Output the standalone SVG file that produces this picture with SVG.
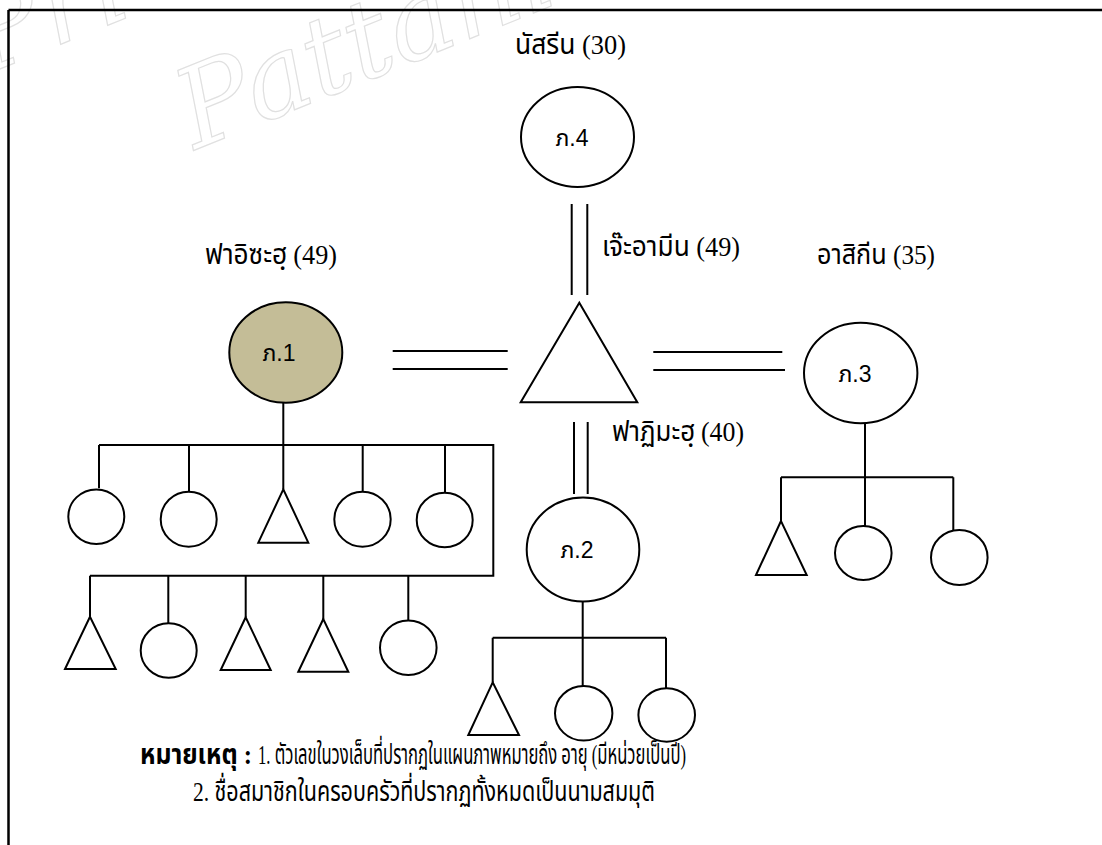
<svg xmlns="http://www.w3.org/2000/svg" width="1102" height="845" viewBox="0 0 1102 845">
<style>
.ln{stroke:#000;stroke-width:2;fill:none}
.sh{stroke:#000;stroke-width:2;fill:#fff}
.nm{font-family:"Liberation Serif","Noto Sans Thai","Noto Serif Thai",serif;font-size:28px;fill:#000}
.lb{font-family:"Liberation Sans","Noto Sans Thai",sans-serif;font-size:23px;fill:#000;text-anchor:middle}
.wm{font-family:"DejaVu Serif",serif;font-style:italic;font-size:110px;fill:none;stroke:#e0e0e0;stroke-width:1.2}
</style>
<rect width="1102" height="845" fill="#fff"/>
<g id="watermark">
<text class="wm" transform="translate(-15 75) rotate(-22)">Pri</text>
<text class="wm" transform="translate(195 150) rotate(-22)">Pattani C</text>
</g>
<g id="frame">
<path d="M8.5 10 H1102 M8.5 10 V845" stroke="#000" stroke-width="2.5" fill="none"/>
</g>
<g id="connectors">
<path class="ln" d="M571.7 204 V295 M587.3 204 V295"/>
<path class="ln" d="M392.7 351 H507.7 M392.7 369 H507.7"/>
<path class="ln" d="M653.3 352 H782.3 M653.3 370 H785"/>
<path class="ln" d="M574 422 V494 M587.7 422 V494"/>
<path class="ln" d="M283.3 403 V489.3"/>
<path class="ln" d="M99 445 H493.3 V575.7 H90"/>
<path class="ln" d="M99 445 V488.3 M189 445 V491.7 M362.7 445 V491.7 M445 445 V492.7"/>
<path class="ln" d="M90 575.7 V616.7 M168.3 575.7 V623.3 M245.7 575.7 V617.3 M323.3 575.7 V619 M408.3 575.7 V620.7"/>
<path class="ln" d="M582.7 598 V637.7 M492.7 637.7 H666 M492.7 637.7 V682.3 M582.7 637.7 V686 M666 637.7 V688.3"/>
<path class="ln" d="M865 405 V477.3 M781 477.3 H953.3 M781 477.3 V521 M865 477.3 V526 M953.3 477.3 V530"/>
</g>
<g id="p4">
<ellipse class="sh" cx="577.5" cy="137" rx="56.5" ry="50"/>
<text class="lb" x="572" y="146">ภ.4</text>
</g>
<g id="p1">
<ellipse cx="285.8" cy="352.5" rx="56.5" ry="50.2" fill="#C4BD97" stroke="#000" stroke-width="2"/>
<text class="lb" x="279" y="361">ภ.1</text>
</g>
<g id="husband">
<polygon class="sh" points="579.3,302.7 520.7,402.3 637.3,402.3"/>
</g>
<g id="p3">
<ellipse class="sh" cx="860.7" cy="373" rx="56.7" ry="50.3"/>
<text class="lb" x="855" y="382">ภ.3</text>
</g>
<g id="p2">
<ellipse class="sh" cx="583" cy="549.5" rx="56.3" ry="52"/>
<text class="lb" x="577" y="558">ภ.2</text>
</g>
<g id="children1">
<ellipse class="sh" cx="96.3" cy="516.7" rx="28" ry="27.3"/>
<ellipse class="sh" cx="188.7" cy="519.2" rx="28" ry="27.5"/>
<polygon class="sh" points="283.3,489.3 258.3,542.7 308.3,542.7"/>
<ellipse class="sh" cx="362.5" cy="519.2" rx="28.2" ry="27.5"/>
<ellipse class="sh" cx="444.7" cy="520" rx="28" ry="27.3"/>
<polygon class="sh" points="90,616.7 65,669 115.7,669"/>
<ellipse class="sh" cx="168.7" cy="650.5" rx="28" ry="27.2"/>
<polygon class="sh" points="245.7,617.3 220.7,670 270.7,670"/>
<polygon class="sh" points="323.3,619 298.3,671.7 348.3,671.7"/>
<ellipse class="sh" cx="408.3" cy="647.8" rx="28.3" ry="27.2"/>
</g>
<g id="children2">
<polygon class="sh" points="492.7,682.3 468.3,735 519,735"/>
<ellipse class="sh" cx="583.7" cy="713.3" rx="28.7" ry="27.3"/>
<ellipse class="sh" cx="666.7" cy="715" rx="28.3" ry="26.7"/>
</g>
<g id="children3">
<polygon class="sh" points="781,521 756,575 806.7,575"/>
<ellipse class="sh" cx="863.3" cy="553" rx="28.3" ry="27"/>
<ellipse class="sh" cx="959.3" cy="557.5" rx="28.3" ry="27.5"/>
</g>
<g id="names">
<text class="nm" x="515" y="54" textLength="111" lengthAdjust="spacingAndGlyphs">นัสรีน (30)</text>
<text class="nm" x="602" y="256" textLength="138" lengthAdjust="spacingAndGlyphs">เจ๊ะอามีน (49)</text>
<text class="nm" x="205" y="264" textLength="132" lengthAdjust="spacingAndGlyphs">ฟาอิซะฮฺ (49)</text>
<text class="nm" x="817" y="264" textLength="118" lengthAdjust="spacingAndGlyphs">อาสิกีน (35)</text>
<text class="nm" x="612" y="441" textLength="132" lengthAdjust="spacingAndGlyphs">ฟาฏิมะฮฺ (40)</text>
</g>
<g id="notes">
<text class="nm" x="140" y="764" font-weight="bold" textLength="112" lengthAdjust="spacingAndGlyphs">หมายเหตุ :</text>
<text class="nm" x="258" y="764" textLength="428" lengthAdjust="spacingAndGlyphs">1. ตัวเลขในวงเล็บที่ปรากฏในแผนภาพหมายถึง อายุ (มีหน่วยเป็นปี)</text>
<text class="nm" x="193" y="801" textLength="462" lengthAdjust="spacingAndGlyphs">2. ชื่อสมาชิกในครอบครัวที่ปรากฏทั้งหมดเป็นนามสมมุติ</text>
</g>
</svg>
